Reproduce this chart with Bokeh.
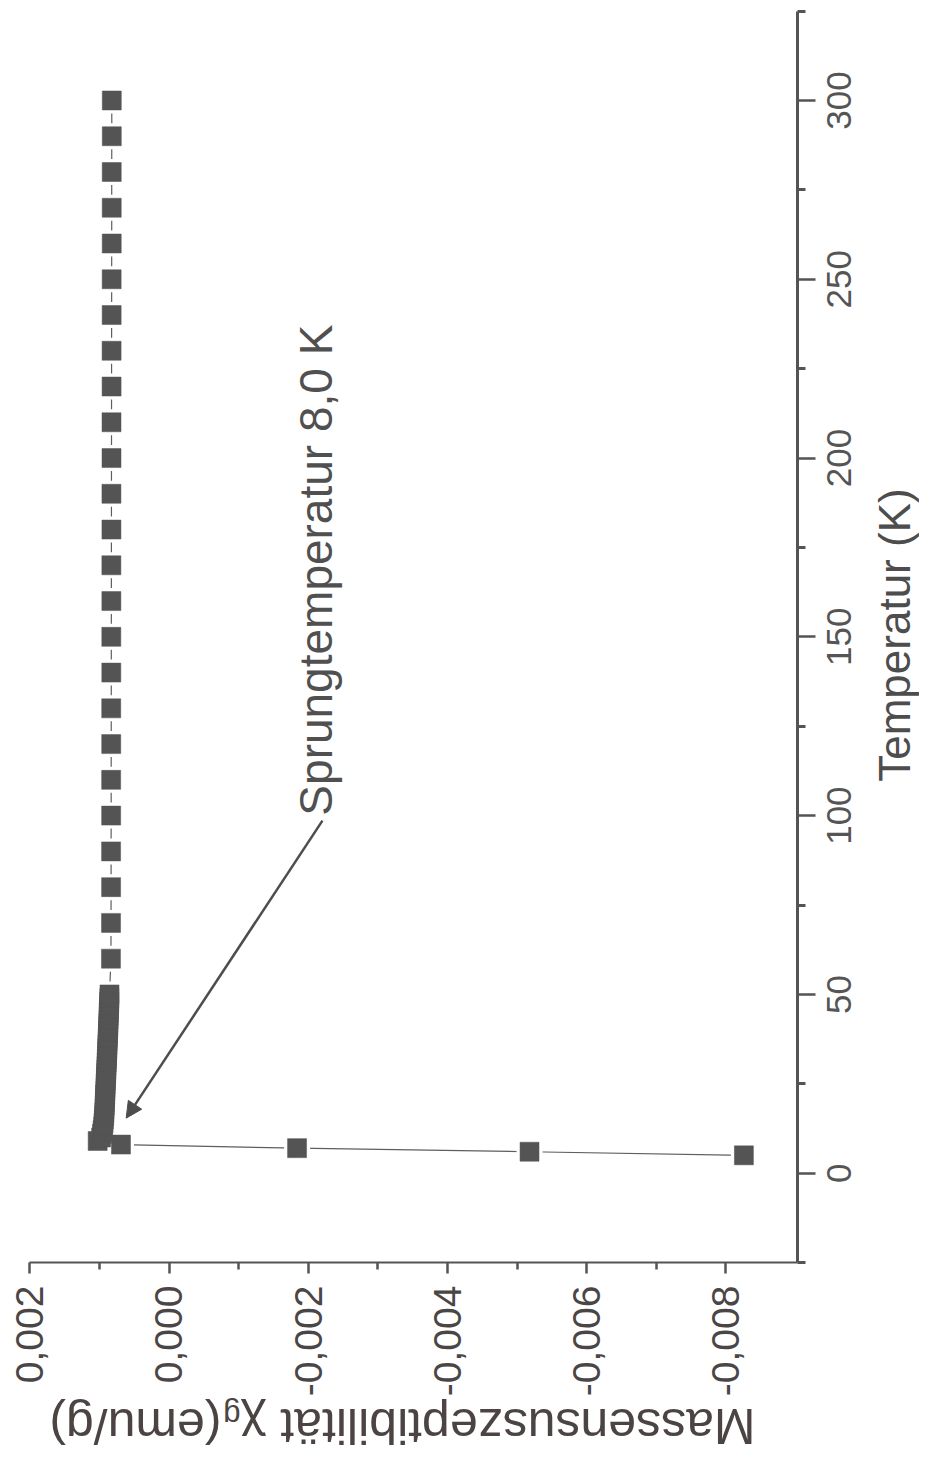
import math
from bokeh.plotting import figure
from bokeh.models import (Range1d, FixedTicker, LabelSet, Arrow, NormalHead,
                          ColumnDataSource)
from bokeh.core.properties import value
from bokeh.embed import file_html
from bokeh.resources import INLINE

# ---------------- data ----------------
temperature_K = [5, 6, 7, 8,
                 9, 10, 11, 12, 13, 14, 15, 16, 17, 18, 19, 20, 21, 22, 23, 24, 25,
                 26, 27, 28, 29, 30, 31, 32, 33, 34, 35, 36, 37, 38, 39, 40, 41, 42,
                 43, 44, 45, 46, 47, 48, 49, 50,
                 60, 70, 80, 90, 100, 110, 120, 130, 140, 150, 160, 170, 180, 190,
                 200, 210, 220, 230, 240, 250, 260, 270, 280, 290, 300]
chi_g = [-0.00826, -0.00518, -0.00184, 0.00069,
         0.001025, 0.000975, 0.000963, 0.000954, 0.000946, 0.000941, 0.000936,
         0.000932, 0.000929, 0.000926, 0.000924, 0.000921, 0.000919, 0.000917,
         0.000914, 0.000912, 0.000910, 0.000907, 0.000905, 0.000902, 0.000900,
         0.000898, 0.000895, 0.000893, 0.000891, 0.000888, 0.000886, 0.000884,
         0.000882, 0.000879, 0.000877, 0.000875, 0.000873, 0.000871, 0.000869,
         0.000867, 0.000865, 0.000863, 0.000861, 0.000859, 0.000857, 0.000855,
         0.000834, 0.000833, 0.000832, 0.000832, 0.000831, 0.000831, 0.000830,
         0.000830, 0.000829, 0.000829, 0.000828, 0.000828, 0.000827, 0.000827,
         0.000826, 0.000826, 0.000825, 0.000825, 0.000824, 0.000824, 0.000823,
         0.000823, 0.000823, 0.000822, 0.000822]

chi_ticks = [0.002, 0.0, -0.002, -0.004, -0.006, -0.008]
chi_tick_labels = ["0,002", "0,000", "-0,002", "-0,004", "-0,006", "-0,008"]
chi_minor_ticks = [0.001, -0.001, -0.003, -0.005, -0.007]
chi_axis_bounds = (0.002, -0.00903)

T_ticks = [0, 50, 100, 150, 200, 250, 300]
T_tick_labels = ["0", "50", "100", "150", "200", "250", "300"]
T_minor_ticks = [-25, 25, 75, 125, 175, 225, 275, 325]
T_axis_bounds = (-25, 325)

x_title_main = "Massensuszeptibilität χ"
x_title_sub = "g"
x_title_unit = "(emu/g)"
y_title = "Temperatur (K)"
note_text = "Sprungtemperatur 8,0 K"

FONT = "Liberation Sans"
GREY = "#545454"
W, H = 919, 1454

# The frame covers the whole canvas; the axes sit at fixed data locations.
p = figure(width=W, height=H,
           x_range=Range1d(0.002421, -0.010783), y_range=Range1d(-78.67, 327.96),
           y_axis_location="right", output_backend="svg", toolbar_location=None,
           min_border=0)
p.outline_line_color = None
p.grid.visible = False
p.background_fill_color = "white"
p.border_fill_color = "white"

src = ColumnDataSource(dict(T=temperature_K, chi=chi_g))
p.line("chi", "T", source=src, line_color="#5a5f63", line_width=1.2)
p.scatter("chi", "T", source=src, marker="square", size=26,
          fill_color="white", line_color=None)
p.scatter("chi", "T", source=src, marker="square", size=19,
          fill_color=GREY, line_color=GREY, line_width=0.5)

# bottom axis (susceptibility)
xa = p.xaxis[0]
xa.fixed_location = T_axis_bounds[0]
xa.bounds = chi_axis_bounds
xa.ticker = FixedTicker(ticks=chi_ticks, minor_ticks=chi_minor_ticks)
xa.major_label_overrides = dict(zip(chi_ticks, chi_tick_labels))
xa.major_label_orientation = math.pi / 2
xa.major_label_text_font = FONT
xa.major_label_text_font_size = "39px"
xa.major_label_text_color = "#4b4646"
xa.major_label_standoff = 12
xa.axis_line_color = GREY
xa.axis_line_width = 2
xa.major_tick_line_color = GREY
xa.major_tick_line_width = 2.5
xa.minor_tick_line_color = GREY
xa.minor_tick_line_width = 2.5
xa.major_tick_out = 11
xa.major_tick_in = 0
xa.minor_tick_out = 7
xa.minor_tick_in = 0

# right axis (temperature); its labels are drawn with a LabelSet (read bottom-to-top)
ya = p.yaxis[0]
ya.fixed_location = chi_axis_bounds[1]
ya.bounds = T_axis_bounds
ya.ticker = FixedTicker(ticks=T_ticks, minor_ticks=T_minor_ticks)
ya.major_label_overrides = {t: "" for t in T_ticks}
ya.axis_line_color = GREY
ya.axis_line_width = 3
ya.major_tick_line_color = GREY
ya.major_tick_line_width = 2.5
ya.minor_tick_line_color = GREY
ya.minor_tick_line_width = 3
ya.major_tick_out = 18
ya.major_tick_in = 0
ya.minor_tick_out = 8
ya.minor_tick_in = 0


def text_at(x, y, text, angle, size, color, align):
    s = ColumnDataSource(dict(x=list(x), y=list(y), t=list(text)))
    p.add_layout(LabelSet(x="x", y="y", text="t", source=s, angle=angle,
                          text_font=value(FONT), text_font_size=value(size),
                          text_color=value(color),
                          text_align=align, text_baseline="alphabetic"))


text_at([-0.009806] * len(T_ticks), T_ticks, T_tick_labels, math.pi / 2,
        "35px", "#555555", "center")

# axis titles (rotated as in the reference)
text_at([-0.008427], [-66.0], [x_title_main], math.pi, "50px", "#4b4442", "left")
text_at([-0.001027], [-64.9], [x_title_sub], math.pi, "31px", "#4b4442", "left")
text_at([-0.000754], [-66.0], [x_title_unit], math.pi, "50px", "#4b4442", "left")
text_at([-0.010640], [150.5], [y_title], math.pi / 2, "44px", "#4d4d4d", "center")

# annotation with arrow
text_at([-0.002349], [100.0], [note_text], math.pi / 2, "46px", "#505050", "left")
p.add_layout(Arrow(x_start=-0.002205, y_start=98.6, x_end=0.000615, y_end=15.4,
                   line_color="#4d4d4d", line_width=2.5,
                   end=NormalHead(size=16, fill_color="#4d4d4d", line_color="#4d4d4d")))

open("out.html", "w").write(file_html(p, INLINE))
